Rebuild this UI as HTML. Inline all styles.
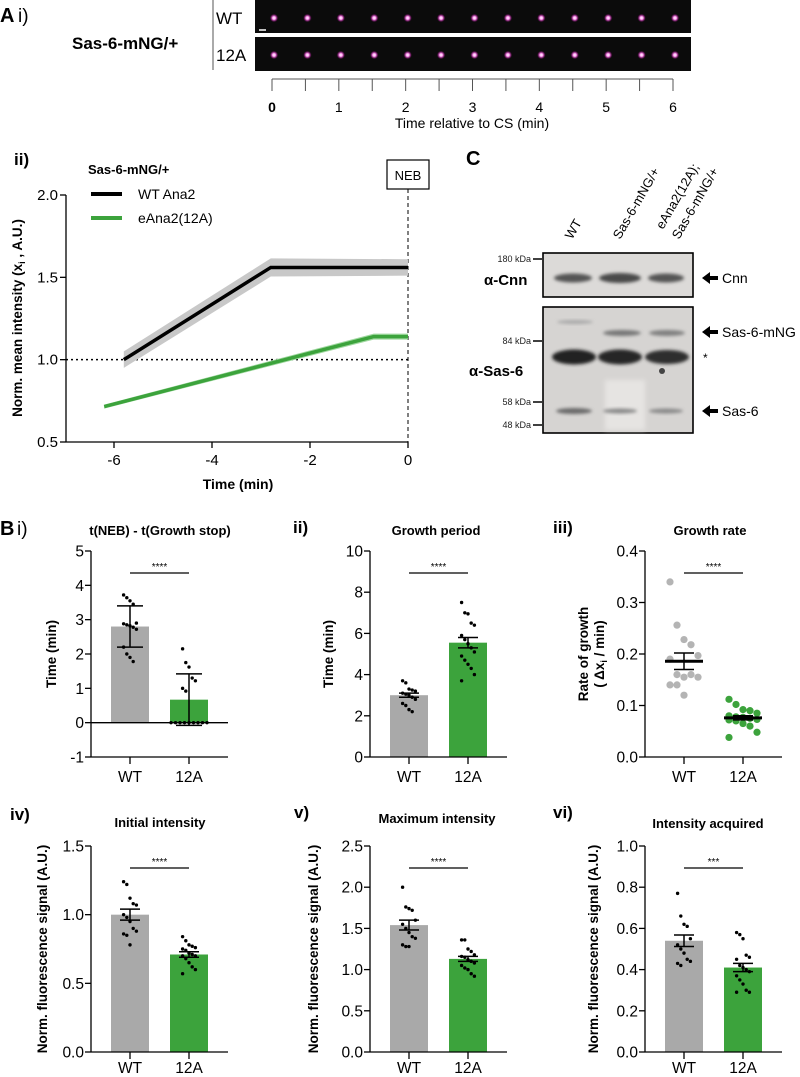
<!DOCTYPE html>
<html><head><meta charset="utf-8">
<style>
html,body{margin:0;padding:0;background:#fff;}
svg{display:block;font-family:"Liberation Sans",Arial,sans-serif;}
.b{font-weight:bold;}
.n{font-family:"Liberation Sans Narrow","Liberation Sans",Arial,sans-serif;}
</style></head>
<body>
<svg id="fig" width="800" height="1077" viewBox="0 0 800 1077" xmlns="http://www.w3.org/2000/svg">
<defs>
<radialGradient id="spot" cx="50%" cy="50%" r="50%">
<stop offset="0" stop-color="#ffffff"/><stop offset="0.35" stop-color="#ff9cf0"/><stop offset="0.7" stop-color="#a0208c" stop-opacity="0.6"/><stop offset="1" stop-color="#000" stop-opacity="0"/>
</radialGradient>
<filter id="blur1" x="-20%" y="-50%" width="140%" height="200%"><feGaussianBlur stdDeviation="1.6"/></filter>
<filter id="blur2" x="-20%" y="-50%" width="140%" height="200%"><feGaussianBlur stdDeviation="2.5"/></filter>
</defs>

<text x="0" y="22" class="b" font-size="20">A</text>
<text x="18" y="22" font-size="19">i)</text>
<text x="72" y="49" class="b" font-size="17">Sas-6-mNG/+</text>
<line x1="213" y1="0" x2="213" y2="70" stroke="#555" stroke-width="1"/>
<text x="216" y="24" font-size="17">WT</text>
<text x="216" y="61" font-size="17">12A</text>
<rect x="255" y="0" width="436" height="33" fill="#0b0b0b"/>
<rect x="255" y="37" width="436" height="34" fill="#0b0b0b"/>
<line x1="259" y1="30" x2="266" y2="30" stroke="#fff" stroke-width="1.5"/>
<g id="spots"></g>
<g id="stripAxis"></g>
<text x="472" y="128" font-size="14" text-anchor="middle" class="n">Time relative to CS (min)</text>

<text x="14" y="165" class="b" font-size="17">ii)</text>
<text x="88" y="174" class="b" font-size="13">Sas-6-mNG/+</text>
<line x1="91" y1="194" x2="122" y2="194" stroke="#000" stroke-width="4"/>
<text x="138" y="199" font-size="14">WT Ana2</text>
<line x1="91" y1="218" x2="122" y2="218" stroke="#3ca33c" stroke-width="4"/>
<text x="138" y="223" font-size="14">eAna2(12A)</text>
<rect x="387" y="160" width="42" height="29" fill="#fff" stroke="#000" stroke-width="1.2"/>
<text x="408" y="180" font-size="13" text-anchor="middle">NEB</text>
<g id="lineChart"></g>
<text x="238" y="489" class="b" font-size="14" text-anchor="middle">Time (min)</text>
<text transform="translate(22,318) rotate(-90)" class="b" font-size="13.5" text-anchor="middle">Norm. mean intensity (x<tspan font-size="9" dy="3">i</tspan><tspan dy="-3"> , A.U.)</tspan></text>

<g id="blot">
<text x="466" y="165" class="b" font-size="20">C</text>
<text transform="translate(572,240) rotate(-60)" font-size="13">WT</text>
<text transform="translate(620,240) rotate(-60)" font-size="13">Sas-6-mNG/+</text>
<text transform="translate(663,230) rotate(-60)" font-size="13">eAna2(12A);</text>
<text transform="translate(679,240) rotate(-60)" font-size="13">Sas-6-mNG/+</text>
<rect x="543" y="253" width="150" height="44" fill="#dcdad8" stroke="#000" stroke-width="1.6"/>
<rect x="543" y="307" width="150" height="126" fill="#d6d4d2" stroke="#000" stroke-width="1.6"/>
<rect x="605" y="380" width="40" height="50" fill="#e6e4e2" filter="url(#blur2)"/>
<ellipse cx="573" cy="278" rx="19" ry="4.5" fill="#555" filter="url(#blur1)"/>
<ellipse cx="620" cy="278" rx="21" ry="5" fill="#4a4a4a" filter="url(#blur1)"/>
<ellipse cx="666" cy="278" rx="18" ry="4.5" fill="#555" filter="url(#blur1)"/>
<ellipse cx="575" cy="322" rx="18" ry="2" fill="#aaa" filter="url(#blur1)"/>
<ellipse cx="622" cy="333" rx="19" ry="3" fill="#777" filter="url(#blur1)"/>
<ellipse cx="667" cy="333" rx="18" ry="3" fill="#808080" filter="url(#blur1)"/>
<ellipse cx="574" cy="357" rx="22" ry="7.5" fill="#222" filter="url(#blur1)"/>
<ellipse cx="620" cy="357" rx="22" ry="7.5" fill="#262626" filter="url(#blur1)"/>
<ellipse cx="667" cy="357" rx="22" ry="7" fill="#2e2e2e" filter="url(#blur1)"/>
<ellipse cx="662" cy="371" rx="3" ry="3" fill="#444"/>
<ellipse cx="574" cy="411" rx="18" ry="3" fill="#6a6a6a" filter="url(#blur1)"/>
<ellipse cx="620" cy="411" rx="17" ry="2.5" fill="#8a8a8a" filter="url(#blur1)"/>
<ellipse cx="666" cy="411" rx="17" ry="2.5" fill="#8a8a8a" filter="url(#blur1)"/>
<g font-size="9" text-anchor="end" fill="#222">
<text x="531" y="262">180 kDa</text>
<text x="531" y="344">84 kDa</text>
<text x="531" y="405">58 kDa</text>
<text x="531" y="428">48 kDa</text>
</g>
<g stroke="#000" stroke-width="1.5">
<line x1="533" y1="259" x2="542" y2="259"/>
<line x1="533" y1="341" x2="542" y2="341"/>
<line x1="533" y1="402" x2="542" y2="402"/>
<line x1="533" y1="425" x2="542" y2="425"/>
</g>
<text x="484" y="285" class="b" font-size="15">α-Cnn</text>
<text x="469" y="376" class="b" font-size="15">α-Sas-6</text>
<g fill="#000">
<polygon points="702,278 710,272 710,276 718,276 718,280 710,280 710,284"/>
<polygon points="702,332 710,326 710,330 718,330 718,334 710,334 710,338"/>
<polygon points="702,411 710,405 710,409 718,409 718,413 710,413 710,417"/>
</g>
<text x="722" y="283" font-size="14">Cnn</text>
<text x="722" y="337" font-size="14">Sas-6-mNG</text>
<text x="703" y="362" font-size="12">*</text>
<text x="722" y="416" font-size="14">Sas-6</text>
</g>

<text x="0" y="535" class="b" font-size="20">B</text>
<text x="17" y="535" font-size="19">i)</text>
<text x="293" y="533" class="b" font-size="17">ii)</text>
<text x="553" y="533" class="b" font-size="17">iii)</text>
<text x="10" y="820" class="b" font-size="17">iv)</text>
<text x="294" y="818" class="b" font-size="17">v)</text>
<text x="553" y="818" class="b" font-size="17">vi)</text>
<g id="barCharts"></g>
</svg>

<script>
const stripFrames = [0,0.5,1,1.5,2,2.5,3,3.5,4,4.5,5,5.5,6];
const stripTickLabels = ['0','1','2','3','4','5','6'];

const wtTime = [-5.8, -2.8, 0];
const wtMean = [1.0, 1.56, 1.56];
const wtErr = [0.05, 0.055, 0.05];
const aTime = [-6.2, -0.7, 0];
const aMean = [0.715, 1.14, 1.14];
const aErr = [0.012, 0.018, 0.018];
const lineXTicks = [-6, -4, -2, 0];
const lineYTicks = [0.5, 1.0, 1.5, 2.0];

const categories = ['WT', '12A'];

const biTicks = [-1,0,1,2,3,4,5];
const biMeans = [2.8, 0.67];
const biErr = [0.6, 0.75];
const biWT = [3.72,3.64,3.55,3.45,2.9,2.88,2.85,2.82,2.78,2.72,2.2,2.0,1.9,1.78];
const bi12A = [2.15,1.75,1.62,1.3,1.22,1.0,0.92,0,0,0,0,0,0,0,0,0];

const biiTicks = [0,2,4,6,8,10];
const biiMeans = [3.0, 5.55];
const biiErr = [0.1, 0.25];
const biiWT = [3.7,3.6,3.3,3.25,3.2,3.1,3.05,3.0,2.9,2.8,2.6,2.5,2.3,2.2];
const bii12A = [7.5,7.0,6.95,6.5,6.4,5.9,5.7,5.5,5.3,5.1,4.9,4.7,4.5,4.3,4.0,3.7];

const biiiTicks = [0.0,0.1,0.2,0.3,0.4];
const biiiMeans = [0.186, 0.076];
const biiiErr = [0.016, 0.004];
const biiiWT = [0.34,0.256,0.228,0.218,0.197,0.19,0.16,0.155,0.16,0.155,0.14,0.14,0.12];
const biii12A = [0.112,0.102,0.092,0.09,0.085,0.08,0.078,0.077,0.075,0.073,0.072,0.07,0.065,0.06,0.048,0.038];

const bivTicks = [0.0,0.5,1.0,1.5];
const bivMeans = [1.0, 0.71];
const bivErr = [0.04, 0.02];
const bivWT = [1.24,1.22,1.12,1.08,1.07,1.0,0.98,0.95,0.9,0.88,0.86,0.85,0.78];
const biv12A = [0.84,0.81,0.78,0.77,0.76,0.75,0.74,0.72,0.71,0.70,0.70,0.68,0.65,0.62,0.60,0.57];

const bvTicks = [0.0,0.5,1.0,1.5,2.0,2.5];
const bvMeans = [1.54, 1.13];
const bvErr = [0.06, 0.03];
const bvWT = [2.0,1.76,1.74,1.72,1.6,1.55,1.5,1.45,1.40,1.38,1.30,1.28,1.28];
const bv12A = [1.36,1.36,1.25,1.22,1.18,1.16,1.15,1.12,1.10,1.08,1.05,1.02,1.0,0.95,0.92];

const bviTicks = [0.0,0.2,0.4,0.6,0.8,1.0];
const bviMeans = [0.54, 0.41];
const bviErr = [0.028, 0.02];
const bviWT = [0.77,0.66,0.62,0.61,0.55,0.52,0.50,0.48,0.45,0.44,0.43,0.42];
const bvi12A = [0.58,0.57,0.55,0.47,0.46,0.45,0.42,0.41,0.40,0.39,0.37,0.35,0.33,0.30,0.29,0.29];

const NS = 'http://www.w3.org/2000/svg';
function el(tag, parent, attrs) {
  const e = document.createElementNS(NS, tag);
  for (const k in attrs) e.setAttribute(k, attrs[k]);
  parent.appendChild(e);
  return e;
}

(function(){
  const g = document.getElementById('spots');
  const sx = t => 274 + t * (675 - 274) / 6;
  stripFrames.forEach(t => {
    [18, 55].forEach((cy, r) => {
      const c = el('circle', g, {cx: sx(t), cy: cy, r: 4.5, fill: 'url(#spot)'});
      
      
    });
  });
  const ax = document.getElementById('stripAxis');
  const tx = t => 272 + t * (673 - 272) / 6;
  const base = el('line', ax, {x1: tx(0), y1: 79, x2: tx(6), y2: 79, stroke: '#555', 'stroke-width': 1});
  
  
  stripFrames.forEach(t => {
    const tk = el('line', ax, {x1: tx(t), y1: 79, x2: tx(t), y2: 91, stroke: '#555', 'stroke-width': 1});
    
    
  });
  stripTickLabels.forEach((lb, i) => {
    const t = el('text', ax, {x: tx(+lb), y: 112, 'font-size': 14, 'text-anchor': 'middle', class: 'n', 'font-weight': i === 0 ? 'bold' : 'normal'});
    t.textContent = lb;
    
    
  });
})();

(function(){
  const g = document.getElementById('lineChart');
  const X = v => 408 + v * 49;
  const Y = v => 442 - (v - 0.5) * (442 - 195) / 1.5;
  const yAx = el('line', g, {x1: 66, y1: 195, x2: 66, y2: 442, stroke: '#000', 'stroke-width': 1.3});
  
  
  const xAx = el('line', g, {x1: 66, y1: 442, x2: 408, y2: 442, stroke: '#000', 'stroke-width': 1.3});
  
  
  lineYTicks.forEach(v => {
    const tk = el('line', g, {x1: 60, y1: Y(v), x2: 66, y2: Y(v), stroke: '#000', 'stroke-width': 1.3});
    
    
    const t = el('text', g, {x: 58, y: Y(v) + 5, 'font-size': 15, 'text-anchor': 'end'});
    t.textContent = v.toFixed(1);
    
    
  });
  lineXTicks.forEach(v => {
    const tk = el('line', g, {x1: X(v), y1: 442, x2: X(v), y2: 448, stroke: '#000', 'stroke-width': 1.3});
    
    
    const t = el('text', g, {x: X(v), y: 465, 'font-size': 15, 'text-anchor': 'middle'});
    t.textContent = v;
    
    
  });
  const ref = el('line', g, {x1: 66, y1: Y(1), x2: 408, y2: Y(1), stroke: '#000', 'stroke-width': 1.5, 'stroke-dasharray': '2,3'});
  
  
  const neb = el('line', g, {x1: 408, y1: 189, x2: 408, y2: 442, stroke: '#000', 'stroke-width': 1, 'stroke-dasharray': '4,3'});
  
  
  function band(ts, ms, es, fill) {
    let top = ts.map((t, i) => X(t) + ',' + Y(ms[i] + es[i]));
    let bot = ts.map((t, i) => X(t) + ',' + Y(ms[i] - es[i])).reverse();
    return el('polygon', g, {points: top.concat(bot).join(' '), fill: fill});
  }
  const b1 = band(wtTime, wtMean, wtErr, '#c8c8c8');
  
  
  const b2 = band(aTime, aMean, aErr, '#9fd89f');
  
  
  const l1 = el('polyline', g, {points: wtTime.map((t, i) => X(t) + ',' + Y(wtMean[i])).join(' '), fill: 'none', stroke: '#000', 'stroke-width': 3.5});
  
  
  const l2 = el('polyline', g, {points: aTime.map((t, i) => X(t) + ',' + Y(aMean[i])).join(' '), fill: 'none', stroke: '#3ca33c', 'stroke-width': 3.5});
  
  
})();

const panels = [
  {id:'bi', ax:91, top:551, bot:757, ticks:biTicks, dec:0, means:biMeans, err:biErr, pts:[biWT,bi12A], title:'t(NEB) - t(Growth stop)', tx:160, ty:535, yt:'Time (min)', ytx:56, zero:true, sd:true, sig:'****', lab:25},
  {id:'bii', ax:370, top:551, bot:757, ticks:biiTicks, dec:0, means:biiMeans, err:biiErr, pts:[biiWT,bii12A], title:'Growth period', tx:436, ty:535, yt:'Time (min)', ytx:333, sig:'****', lab:25},
  {id:'biii', ax:645, top:551, bot:757, ticks:biiiTicks, dec:1, means:biiiMeans, err:biiiErr, pts:[biiiWT,biii12A], title:'Growth rate', tx:710, ty:535, yt:'Rate of growth', yt2:true, ytx:588, dots:true, sig:'****', lab:25},
  {id:'biv', ax:91, top:846, bot:1052, ticks:bivTicks, dec:1, means:bivMeans, err:bivErr, pts:[bivWT,biv12A], title:'Initial intensity', tx:160, ty:827, yt:'Norm. fluorescence signal (A.U.)', ytx:47, sig:'****', lab:21},
  {id:'bv', ax:370, top:846, bot:1052, ticks:bvTicks, dec:1, means:bvMeans, err:bvErr, pts:[bvWT,bv12A], title:'Maximum intensity', tx:437, ty:823, yt:'Norm. fluorescence signal (A.U.)', ytx:318, sig:'****', lab:21},
  {id:'bvi', ax:645, top:846, bot:1052, ticks:bviTicks, dec:1, means:bviMeans, err:bviErr, pts:[bviWT,bvi12A], title:'Intensity acquired', tx:708, ty:828, yt:'Norm. fluorescence signal (A.U.)', ytx:598, sig:'***', lab:21}
];

(function(){
  const root = document.getElementById('barCharts');
  panels.forEach(p => {
    const g = el('g', root, {});
    
    
    const lo = p.ticks[0], hi = p.ticks[p.ticks.length - 1];
    const Y = v => p.bot - (v - lo) * (p.bot - p.top) / (hi - lo);
    const cx = [p.ax + 39, p.ax + 98];
    const right = p.ax + 137;
    const t = el('text', g, {x: p.tx, y: p.ty, 'font-size': 13, 'font-weight': 'bold', 'text-anchor': 'middle'});
    t.textContent = p.title;
    
    
    const mid = (p.top + p.bot) / 2;
    if (p.yt2) {
      const y1 = el('text', g, {transform: 'translate(' + p.ytx + ',' + mid + ') rotate(-90)', 'font-size': 13.5, 'font-weight': 'bold', 'text-anchor': 'middle'});
      y1.textContent = p.yt;
      
      
      const y2 = el('text', g, {transform: 'translate(' + (p.ytx + 16) + ',' + mid + ') rotate(-90)', 'font-size': 13.5, 'font-weight': 'bold', 'text-anchor': 'middle'});
      y2.innerHTML = '( Δx<tspan font-size="9" dy="3">i</tspan><tspan dy="-3"> / min)</tspan>';
      
      
    } else {
      const y1 = el('text', g, {transform: 'translate(' + p.ytx + ',' + mid + ') rotate(-90)', 'font-size': 13.5, 'font-weight': 'bold', 'text-anchor': 'middle'});
      y1.textContent = p.yt;
      
      
    }
    const ya = el('line', g, {x1: p.ax, y1: p.top, x2: p.ax, y2: p.bot, stroke: '#000', 'stroke-width': 1.3});
    
    
    p.ticks.forEach(v => {
      const tk = el('line', g, {x1: p.ax - 6, y1: Y(v), x2: p.ax, y2: Y(v), stroke: '#000', 'stroke-width': 1.3});
      
      
      const tl = el('text', g, {x: p.ax - 7, y: Y(v) + 5.5, 'font-size': 15.5, 'text-anchor': 'end', class: 'n'});
      tl.textContent = v.toFixed(p.dec);
      
      
    });
    if (!p.dots) {
      p.means.forEach((m, i) => {
        const y0 = p.zero ? Y(0) : p.bot;
        const b = el('rect', g, {x: cx[i] - 19, y: Math.min(Y(m), y0), width: 38, height: Math.abs(y0 - Y(m)), fill: i === 0 ? '#a9a9a9' : '#3ca33c'});
        
        
      });
    }
    const xa = el('line', g, {x1: p.ax, y1: p.bot, x2: right, y2: p.bot, stroke: '#000', 'stroke-width': 1.3});
    
    
    if (p.zero) {
      const za = el('line', g, {x1: p.ax, y1: Y(0), x2: right, y2: Y(0), stroke: '#000', 'stroke-width': 1.3});
      
      
    }
    categories.forEach((c, i) => {
      const tk = el('line', g, {x1: cx[i], y1: p.bot, x2: cx[i], y2: p.bot + 7, stroke: '#000', 'stroke-width': 1.3});
      
      
      const tl = el('text', g, {x: cx[i], y: p.bot + p.lab, 'font-size': 15.5, 'text-anchor': 'middle', class: 'n'});
      tl.textContent = c;
      
      
    });
    p.pts.forEach((arr, i) => {
      arr.forEach((v, j) => {
        let off;
        if (p.dots) off = ((j % 5) - 2) * 7;
        else if (p.zero && v === 0) off = ((j % 9) - 4) * 4.5;
        else off = ((j % 5) - 2) * 3.2;
        const d = el('circle', g, {cx: cx[i] + off, cy: Y(v), r: p.dots ? 3.6 : 1.7, fill: p.dots ? (i === 0 ? '#b4b4b4' : '#3ca33c') : '#000'});
        
        
      });
    });
    p.means.forEach((m, i) => {
      const e = p.err[i];
      const capW = p.sd ? 13 : 10;
      const eg = el('g', g, {stroke: '#000', 'stroke-width': 1.5});
      
      
      el('line', eg, {x1: cx[i], y1: Y(m - e), x2: cx[i], y2: Y(m + e)});
      el('line', eg, {x1: cx[i] - capW, y1: Y(m + e), x2: cx[i] + capW, y2: Y(m + e)});
      el('line', eg, {x1: cx[i] - capW, y1: Y(m - e), x2: cx[i] + capW, y2: Y(m - e)});
      if (p.dots) {
        const ml = el('line', g, {x1: cx[i] - 19, y1: Y(m), x2: cx[i] + 19, y2: Y(m), stroke: '#000', 'stroke-width': 3});
        
        
      }
    });
    const sy = p.top + 22;
    const sl = el('line', g, {x1: cx[0], y1: sy, x2: cx[1], y2: sy, stroke: '#000', 'stroke-width': 1.2});
    
    
    const st = el('text', g, {x: (cx[0] + cx[1]) / 2, y: sy - 3, 'font-size': 10, 'text-anchor': 'middle'});
    st.textContent = p.sig;
    
    
  });
})();
</script>
</body></html>
